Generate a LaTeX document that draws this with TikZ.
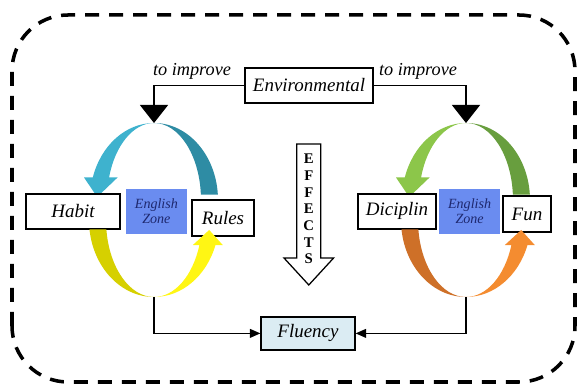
\documentclass[tikz,border=0pt]{standalone}
\usepackage{fontspec}
\setmainfont{Liberation Serif}
\usetikzlibrary{arrows.meta}
\definecolor{topblue}{RGB}{62,178,206}
\definecolor{topteal}{RGB}{46,140,164}
\definecolor{botolive}{RGB}{214,208,0}
\definecolor{botyellow}{RGB}{255,246,20}
\definecolor{topgreen}{RGB}{140,198,74}
\definecolor{topdkgreen}{RGB}{104,158,62}
\definecolor{botdkorange}{RGB}{206,112,40}
\definecolor{botorange}{RGB}{244,140,48}
\definecolor{zoneblue}{RGB}{106,140,240}
\definecolor{zonetext}{RGB}{30,40,110}
\definecolor{fluencyfill}{RGB}{219,236,243}
\begin{document}
\begin{tikzpicture}[
    namebox/.style={draw, line width=0.9pt, fill=white, inner sep=0pt, font=\fontsize{13.5}{16}\selectfont\itshape},
    zone/.style={fill=zoneblue, inner sep=0pt, minimum width=1.525cm, minimum height=1.125cm, align=center, text=zonetext, font=\fontsize{10}{11}\selectfont\itshape},
    link/.style={line width=0.9pt},
    bigtip/.style={-{Triangle[length=0.45cm,width=0.7cm]}},
    smalltip/.style={-{Triangle[length=0.26cm,width=0.22cm]}}
]
                \useasboundingbox (0,0) rectangle (14.45,9.675);
                \draw[line width=2.5pt, dash pattern=on 0.35cm off 0.25cm, rounded corners=1.4cm] (0.3,0.125) rectangle (14.375,9.3);
                % upper halves of the loops
                \begin{scope}[shift={(3.85,4.675)}]
                \fill[topblue] (0,1.925) arc[start angle=90,end angle=163,x radius=1.6,y radius=1.925]--(-1.75,0.563)--(-1.42,0.075)--(-0.91,0.563)--(163:1.175 and 1.925) arc[start angle=163,end angle=90,x radius=1.175,y radius=1.925]--cycle;
                \fill[topteal] (0,1.925) arc[start angle=90,end angle=4,x radius=1.6,y radius=1.925]--(4:1.175 and 1.925) arc[start angle=4,end angle=90,x radius=1.175,y radius=1.925]--cycle;
                \end{scope}
                \begin{scope}[shift={(11.65,4.675)}]
                \fill[topgreen] (0,1.925) arc[start angle=90,end angle=163,x radius=1.6,y radius=1.925]--(-1.75,0.563)--(-1.42,0.075)--(-0.91,0.563)--(163:1.175 and 1.925) arc[start angle=163,end angle=90,x radius=1.175,y radius=1.925]--cycle;
                \fill[topdkgreen] (0,1.925) arc[start angle=90,end angle=4,x radius=1.6,y radius=1.925]--(4:1.175 and 1.925) arc[start angle=4,end angle=90,x radius=1.175,y radius=1.925]--cycle;
                \end{scope}
                % boxes
                \node[namebox, minimum width=3.2cm, minimum height=0.875cm] (env) at (7.725,7.54) {Environmental};
                \node[namebox, minimum width=2.35cm, minimum height=0.875cm] (habit) at (1.825,4.39) {Habit};
                \node[zone] (zoneL) at (3.91,4.39) {English\\Zone};
                \node[namebox, minimum width=1.55cm, minimum height=0.9cm] (rules) at (5.575,4.225) {Rules};
                \node[namebox, minimum width=1.95cm, minimum height=0.875cm] (diciplin) at (9.925,4.39) {Diciplin};
                \node[zone] (zoneR) at (11.74,4.39) {English\\Zone};
                \node[namebox, minimum width=1.2cm, minimum height=0.9cm] (fun) at (13.175,4.325) {Fun};
                \node[namebox, fill=fluencyfill, minimum width=2.35cm, minimum height=0.825cm] (fluency) at (7.7,1.34) {Fluency};
                \node[font=\fontsize{13}{15}\selectfont\itshape] (improveL) at (4.8,7.9) {to improve};
                \node[font=\fontsize{13}{15}\selectfont\itshape] (improveR) at (10.45,7.9) {to improve};
                % lower halves of the loops
                \begin{scope}[shift={(3.85,4.175)}]
                \fill[botolive] (187:1.625 and 1.925) arc[start angle=187,end angle=270,x radius=1.625,y radius=1.925] arc[start angle=270,end angle=187,x radius=1.2,y radius=1.925]--cycle;
                \fill[botyellow] (0,-1.925) arc[start angle=270,end angle=341,x radius=1.625,y radius=1.925]--(1.72,-0.627)--(1.38,-0.25)--(0.97,-0.627)--(341:1.2 and 1.925) arc[start angle=341,end angle=270,x radius=1.2,y radius=1.925]--cycle;
                \end{scope}
                \begin{scope}[shift={(11.65,4.175)}]
                \fill[botdkorange] (187:1.625 and 1.925) arc[start angle=187,end angle=270,x radius=1.625,y radius=1.925] arc[start angle=270,end angle=187,x radius=1.2,y radius=1.925]--cycle;
                \fill[botorange] (0,-1.925) arc[start angle=270,end angle=341,x radius=1.625,y radius=1.925]--(1.72,-0.627)--(1.38,-0.25)--(0.97,-0.627)--(341:1.2 and 1.925) arc[start angle=341,end angle=270,x radius=1.2,y radius=1.925]--cycle;
                \end{scope}
                % effects arrow
                \draw[line width=0.9pt, fill=white] (7.42,6.075)--(8.02,6.075)--(8.02,3.225)--(8.34,3.225)--(7.72,2.55)--(7.1,3.225)--(7.42,3.225)--cycle;
                \node[font=\fontsize{10.5}{11.9}\selectfont\bfseries, align=center, inner sep=0pt] (effects) at (7.72,4.45) {E\\F\\F\\E\\C\\T\\S};
                % connectors
                \coordinate (topL) at (3.85,6.6);
                \coordinate (topR) at (11.65,6.6);
                \coordinate (botL) at (3.85,2.25);
                \coordinate (botR) at (11.65,2.25);
                \draw[link, bigtip] (env.west) -| (topL);
                \draw[link, bigtip] (env.east) -| (topR);
                \draw[link, smalltip] (botL) |- (fluency.west);
                \draw[link, smalltip] (botR) |- (fluency.east);
\end{tikzpicture}
\end{document}
